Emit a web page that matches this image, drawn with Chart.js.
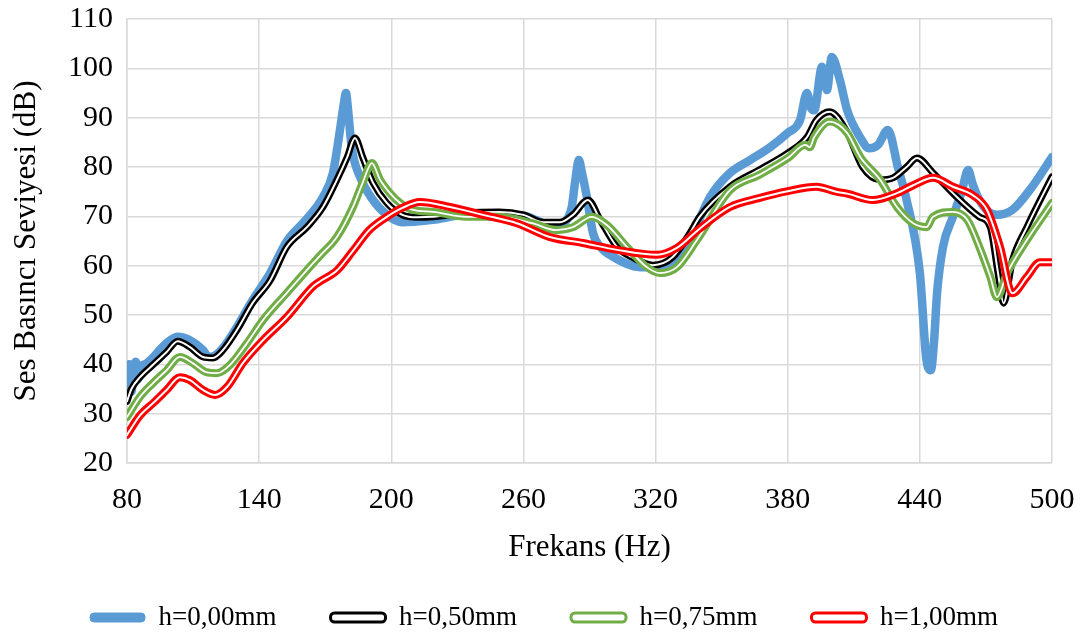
<!DOCTYPE html>
<html>
<head>
<meta charset="utf-8">
<script src="https://cdn.jsdelivr.net/npm/chart.js@4.4.1/dist/chart.umd.min.js"></script>
<style>
  html, body { margin: 0; padding: 0; background: #fff; }
  #wrap { width: 1088px; height: 641px; }
</style>
</head>
<body>
<div id="wrap"><canvas id="chart"></canvas></div>
<script>
// h=0,00mm
const freqBlue = [80, 81, 82, 83, 84, 85, 86, 88, 92, 95, 98, 103, 108.6, 114.5, 117, 120, 123.6, 130, 137, 145,
  152.6, 161.7, 169, 173.5, 176.7, 178.5, 179.4, 180.5, 182, 185.8, 191.7, 198, 205, 219, 234, 250, 260, 266,
  272, 277, 280, 282, 283.4, 285.2, 286.5, 288.8, 291.6, 295, 300.7, 313, 322, 329.7, 337, 344.7, 353.8, 362.9,
  372, 380, 385.6, 388.7, 390.5, 392, 395.6, 397.8, 400, 403.7, 407, 412.9, 417, 421, 425.5, 430, 434, 440, 443,
  445, 446.5, 447.8, 450.5, 455, 459, 461.9, 464, 467, 471, 475, 482, 491, 500];
const dbBlue = [36, 40, 34.5, 39, 40.5, 37, 39.5, 40, 41.5, 43, 44.3, 45.6, 44.9, 42.9, 41.5, 41.8, 43.3, 47.6, 53, 58.5,
  65, 69.5, 73.9, 78.8, 87.5, 93, 95, 91, 84, 78, 73.3, 70.3, 68.8, 69.3, 70.3, 70.2, 70.1, 69.2,
  68.2, 68.3, 69.5, 72, 76.8, 81.4, 79, 73.9, 66.6, 63.8, 61.8, 59.7, 59.7, 61.1, 66.6, 73.9, 78.8, 81.4,
  84, 86.9, 89.5, 95, 92, 91.5, 100.3, 95.6, 102.3, 97.6, 91.5, 86, 83.8, 84.5, 87.5, 80, 73.3, 58.5, 40.9,
  38.8, 45, 54.4, 63.8, 69.9, 75, 79.4, 76.5, 73.3, 71, 70.3, 71.3, 76, 82];

// h=0,50mm
const freqBlack = [80, 82, 85.9, 91.8, 98, 103, 108.6, 114.5, 119, 123.6, 130, 137, 145, 152.6, 161.7, 169, 175.3,
  180, 183.5, 187, 191.7, 198, 205, 211.7, 219, 234, 249, 260, 269, 276.6, 282.5, 289.3, 294.8, 302.5, 309.8,
  318.8, 327.9, 335.6, 340, 353.8, 367, 380, 388.7, 393, 399, 407, 414, 422, 427.8, 434, 438.7, 446, 455, 467,
  472, 475.5, 478, 482, 488.6, 497.7, 500];
const dbBlack = [32.5, 35, 37.4, 39.9, 42.5, 44.7, 43.5, 41.5, 41.3, 42.9, 47, 52.4, 57, 63.8, 67.8, 71.9, 77.4,
  82, 85.9, 82, 76.8, 72.7, 70.3, 69.8, 69.9, 70.7, 70.9, 70.3, 68.8, 68.8, 70.3, 73.3, 69.3, 63.8, 61.6,
  60.1, 61.8, 66.6, 69.9, 76, 79.4, 82.8, 86, 89.5, 91.2, 87, 80, 77.4, 77.8, 80, 81.8, 78.8, 74.7, 69.9,
  67.8, 58.5, 52.4, 61, 67.8, 76, 78];

// h=0,75mm
const freqGreen = [80, 85.9, 91.8, 98, 104, 110, 116, 120.8, 126.8, 134.5, 141.8, 152.6, 164.5, 167.6, 175.3, 182.6,
  187, 191.2, 194.9, 199.4, 204, 209.9, 219, 234, 249, 264, 275, 282.5, 291, 298, 307, 316, 322, 329.7, 338.8,
  353.8, 367, 380, 388, 390, 392, 399, 407, 413, 422, 429.6, 437, 443, 446, 455, 461.5, 467, 472, 475, 479.6,
  488.6, 500];
const dbGreen = [29.3, 33.4, 36.2, 38.8, 41.5, 40.2, 38.4, 38.2, 39.9, 44.3, 49, 54.5, 60.5, 62, 65.8, 71.9,
  76.8, 80.8, 77.4, 74.7, 72.7, 71.3, 70.9, 69.9, 69.9, 68.6, 67.2, 67.8, 69.9, 68.2, 63.8, 59.7, 58.5, 59.7, 65.2,
  75.3, 78.4, 81.8, 84.5, 84, 86, 89.2, 86.9, 82, 77.4, 71.9, 68.6, 67.8, 69.9, 70.9, 69.3, 63.8, 57.7, 53.6, 58.5,
  65.2, 72.7];

// h=1,00mm
const freqRed = [80, 86, 92, 98, 104, 108.6, 114.5, 120, 125.4, 132.7, 141.8, 152.6, 164.5, 167.6, 175.3, 182.6,
  190, 198, 205, 213, 226.7, 241.6, 257, 272, 287, 302.5, 320.6, 329.7, 340, 353.8, 367, 380, 393, 402, 407,
  418.7, 429.6, 437, 446, 455, 464, 470.5, 476.4, 482, 488.6, 494.5, 500];
const dbRed = [25.7, 29.7, 32.2, 34.8, 37.4, 36.8, 34.8, 33.8, 35.4, 40.3, 44.9, 49.6, 55.8, 56.8, 59, 63,
  67.2, 69.9, 71.7, 72.9, 71.9, 70.3, 68.6, 65.8, 64.6, 63.2, 62.2, 63.6, 67.5, 71.9, 73.7, 75.1, 76, 75, 74.6,
  73.3, 74.7, 76.3, 77.8, 76, 74.3, 71.3, 63.8, 54.4, 57.7, 60.7, 60.7];

const seriesLabels = ['h=0,00mm', 'h=0,50mm', 'h=0,75mm', 'h=1,00mm'];
const xTicks = [80, 140, 200, 260, 320, 380, 440, 500];
const yTicks = [20, 30, 40, 50, 60, 70, 80, 90, 100, 110];

const FONT = "'Liberation Serif', 'Times New Roman', serif";
Chart.defaults.font.family = FONT;
Chart.defaults.color = '#000';

const pts = (xs, ys) => xs.map((x, i) => ({ x: x, y: ys[i] }));

const lineBase = {
  pointRadius: 0,
  fill: false,
  cubicInterpolationMode: 'monotone',
  borderJoinStyle: 'round',
  borderCapStyle: 'round',
};

// double lines = coloured wide line + thin white line on top
const datasets = [
  { ...lineBase, label: seriesLabels[0], data: pts(freqBlue, dbBlue), borderColor: '#5b9bd5', borderWidth: 8.5, order: 9 },
  { ...lineBase, label: seriesLabels[1], data: pts(freqBlack, dbBlack), borderColor: '#000000', borderWidth: 7, order: 8 },
  { ...lineBase, label: '', data: pts(freqBlack, dbBlack), borderColor: '#ffffff', borderWidth: 2, order: 7 },
  { ...lineBase, label: seriesLabels[2], data: pts(freqGreen, dbGreen), borderColor: '#70ad47', borderWidth: 8, order: 6 },
  { ...lineBase, label: '', data: pts(freqGreen, dbGreen), borderColor: '#ffffff', borderWidth: 1.8, order: 5 },
  { ...lineBase, label: seriesLabels[3], data: pts(freqRed, dbRed), borderColor: '#ff0000', borderWidth: 8, order: 4 },
  { ...lineBase, label: '', data: pts(freqRed, dbRed), borderColor: '#ffffff', borderWidth: 2, order: 3 },
];

const legendStyle = [
  { fillStyle: '#5b9bd5', strokeStyle: '#5b9bd5', lineWidth: 1 },
  { fillStyle: '#ffffff', strokeStyle: '#000000', lineWidth: 3 },
  { fillStyle: '#ffffff', strokeStyle: '#70ad47', lineWidth: 3 },
  { fillStyle: '#ffffff', strokeStyle: '#ff0000', lineWidth: 3 },
];

const gridColor = '#d9d9d9';
const clear = 'rgba(0,0,0,0)';

new Chart(document.getElementById('chart'), {
  type: 'line',
  data: { datasets: datasets },
  options: {
    responsive: true,
    maintainAspectRatio: false,
    animation: false,
    layout: { padding: { left: 0, right: 0, top: 19, bottom: 0 } },
    plugins: {
      tooltip: { enabled: false },
      legend: {
        position: 'bottom',
        onClick: null,
        labels: {
          font: { size: 27, family: FONT },
          color: '#000',
          boxWidth: 55,
          boxHeight: 9,
          padding: 54,
          useBorderRadius: true,
          borderRadius: 4,
          generateLabels: () => seriesLabels.map((t, i) => ({
            text: t,
            fillStyle: legendStyle[i].fillStyle,
            strokeStyle: legendStyle[i].strokeStyle,
            lineWidth: legendStyle[i].lineWidth,
            borderRadius: 4,
            fontColor: '#000',
            hidden: false,
          })),
        },
      },
    },
    scales: {
      x: {
        type: 'linear',
        min: xTicks[0],
        max: xTicks[xTicks.length - 1],
        afterBuildTicks: (s) => { s.ticks = xTicks.map(v => ({ value: v })); },
        afterFit: (s) => { s.height = 87; s.paddingRight = 36; },
        grid: { color: gridColor, lineWidth: 1.5, drawTicks: true, tickLength: 19, tickColor: clear },
        border: { color: gridColor, width: 1.5 },
        ticks: { font: { size: 30 }, color: '#000', padding: 0, maxRotation: 0 },
        title: {
          display: true,
          text: 'Frekans (Hz)',
          font: { size: 31 },
          color: '#000',
          padding: { top: 0, bottom: -16 },
        },
      },
      y: {
        min: yTicks[0],
        max: yTicks[yTicks.length - 1],
        afterBuildTicks: (s) => { s.ticks = yTicks.map(v => ({ value: v })); },
        afterFit: (s) => { s.width = 127; },
        grid: { color: gridColor, lineWidth: 1.5, drawTicks: true, tickLength: 14, tickColor: clear },
        border: { color: gridColor, width: 1.5 },
        ticks: { font: { size: 30 }, color: '#000', padding: 0 },
        title: {
          display: true,
          text: 'Ses Basıncı Seviyesi (dB)',
          font: { size: 31 },
          color: '#000',
          padding: { top: 8, bottom: 0 },
        },
      },
    },
  },
});
</script>
</body>
</html>
